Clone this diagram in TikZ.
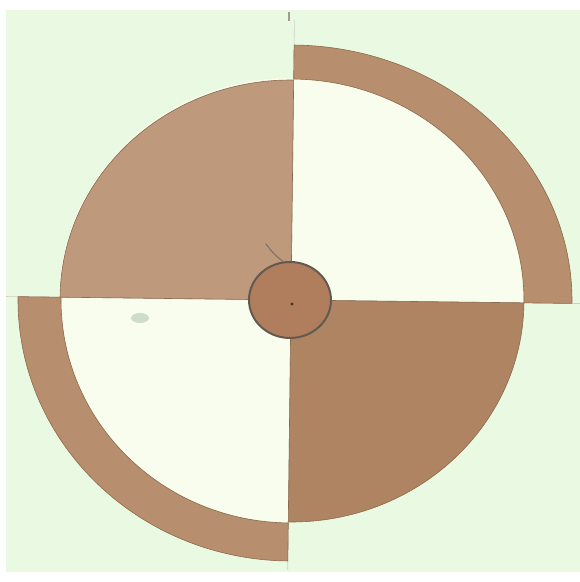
\documentclass[tikz,border=0pt]{standalone}
\definecolor{papergreen}{HTML}{E9F9E2}
\definecolor{papercream}{HTML}{F8FDEE}
\definecolor{umberlight}{HTML}{BE997C}
\definecolor{umberdark}{HTML}{AE8462}
\definecolor{umberring}{HTML}{B88F6E}
\definecolor{umberhub}{HTML}{B07E5C}
\definecolor{pencilgray}{HTML}{7A7064}
\definecolor{smudgegreen}{HTML}{9DB89A}
\tikzset{
    sheet/.style={
        fill=papergreen,
        draw=none
    },
    sector/.style={
        fill=umberlight,
        draw=umberdark!80!black,
        line width=0.6pt,
        line join=round
    },
    sectordark/.style={
        sector,
        fill=umberdark
    },
    ringband/.style={
        sector,
        fill=umberring
    },
    hub/.style={
        fill=umberhub,
        draw=pencilgray!80!black,
        line width=2pt
    },
    pencil/.style={
        draw=pencilgray!35,
        line width=0.6pt
    }
}
\begin{document}
\begin{tikzpicture}[x=1pt,y=1pt]
    \useasboundingbox (-291,-282) rectangle (289,300);
    \fill[white] (-291,-282) rectangle (289,300);
    \fill[sheet] (-285,-272) rectangle (289,290);

    \begin{scope}[rotate=-0.7]
        % inner disc, pale
        \fill[papercream] (0,0) ellipse [x radius=232, y radius=222];
        \draw[pencil] (-285,0) -- (289,0);
        \draw[pencil] (0,-270) -- (0,280);

        % quarters
        \draw[sector] (0,0) -- (-231,0)
            arc [start angle=180, end angle=90, x radius=231, y radius=220] -- cycle;
        \draw[sectordark] (0,0) -- (233,0)
            arc [start angle=0, end angle=-90, x radius=233, y radius=222] -- cycle;

        % outer bands
        \draw[ringband] (0,255)
            arc [start angle=90, end angle=0, x radius=281, y radius=255]
            -- (233,0)
            arc [start angle=0, end angle=90, x radius=233, y radius=221] -- cycle;
        \draw[ringband] (-273,0)
            arc [start angle=180, end angle=270, x radius=273, y radius=261]
            -- (0,-223)
            arc [start angle=270, end angle=180, x radius=230, y radius=223] -- cycle;

        % hub
        \draw[hub] (-1,0) ellipse [x radius=41, y radius=38];
        \fill[umberdark!40!black] (1,-4) circle [radius=1.6];
        \draw[pencilgray, line width=1pt] (-26,56) .. controls (-18,46) .. (-8,38);
    \end{scope}

    \draw[pencilgray!70, line width=2pt] (-2,288) -- (-2,279);
    \fill[smudgegreen, opacity=0.45] (-151,-18) ellipse [x radius=9, y radius=5];
\end{tikzpicture}
\end{document}
